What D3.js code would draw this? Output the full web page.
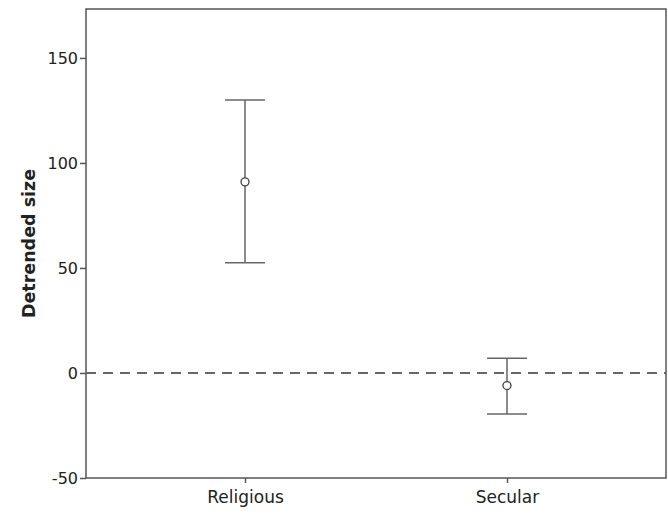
<!DOCTYPE html>
<html>
<head>
<meta charset="utf-8">
<script src="https://cdn.jsdelivr.net/npm/d3@7"></script>
<style>
  body { margin: 0; background: #fff; }
  text { font-family: "DejaVu Sans", sans-serif; fill: #222; }
</style>
</head>
<body>
<div id="chart"></div>
<script>
// data
const groups = ['Religious', 'Secular'];
const means = [91, -6];
const lower = [52.5, -19.5];
const upper = [130, 7];
const yTicks = [-50, 0, 50, 100, 150];

const width = 668;
const height = 513;
const margin = {top: 9, right: 2, bottom: 35, left: 86};

let svg = d3.select('#chart').append('svg')
    .attr('width', width)
    .attr('height', height);

let x = d3.scalePoint()
    .domain(groups)
    .range([margin.left, width - margin.right])
    .padding(0.607);

let y = d3.scaleLinear()
    .domain([-50, 173.3])
    .range([height - margin.bottom, margin.top]);

const axisColor = '#555';
const barColor = '#666';

// frame
svg.append('rect')
    .attr('x', margin.left)
    .attr('y', margin.top)
    .attr('width', width - margin.right - margin.left)
    .attr('height', height - margin.bottom - margin.top)
    .attr('fill', 'none')
    .attr('stroke', axisColor)
    .attr('stroke-width', 1.5);

// reference line at zero
svg.append('line')
    .attr('x1', margin.left)
    .attr('x2', width - margin.right)
    .attr('y1', y(0))
    .attr('y2', y(0))
    .attr('stroke', barColor)
    .attr('stroke-width', 2)
    .attr('stroke-dasharray', '10,7');

let yAxis = svg.append('g')
    .attr('transform', 'translate(' + margin.left + ',0)')
    .call(d3.axisLeft(y).tickValues(yTicks).tickFormat(d => String(d)).tickSize(6).tickPadding(2));

let xAxis = svg.append('g')
    .attr('transform', 'translate(0,' + (height - margin.bottom) + ')')
    .call(d3.axisBottom(x).tickSize(5).tickPadding(8));

[yAxis, xAxis].forEach(a => {
    a.select('.domain').remove();
    a.selectAll('line').attr('stroke', axisColor).attr('stroke-width', 1.5);
    a.selectAll('text')
        .style('font-family', '"DejaVu Sans", sans-serif')
        .attr('fill', '#222');
});
yAxis.selectAll('text').style('font-size', '16px');
xAxis.selectAll('text').style('font-size', '17px');

svg.append('text')
    .attr('transform', 'translate(35,' + ((margin.top + height - margin.bottom) / 2) + ') rotate(-90)')
    .attr('text-anchor', 'middle')
    .style('font-size', '17.5px')
    .style('font-weight', 'bold')
    .text('Detrended size');

// error bars
const cap = 20;
let bars = svg.append('g')
    .selectAll('g')
    .data(groups)
    .join('g');

bars.append('line')
    .attr('x1', d => x(d))
    .attr('x2', d => x(d))
    .attr('y1', (d, i) => y(lower[i]))
    .attr('y2', (d, i) => y(upper[i]))
    .attr('stroke', barColor)
    .attr('stroke-width', 1.5);

bars.append('line')
    .attr('x1', d => x(d) - cap)
    .attr('x2', d => x(d) + cap)
    .attr('y1', (d, i) => y(upper[i]))
    .attr('y2', (d, i) => y(upper[i]))
    .attr('stroke', barColor)
    .attr('stroke-width', 1.5);

bars.append('line')
    .attr('x1', d => x(d) - cap)
    .attr('x2', d => x(d) + cap)
    .attr('y1', (d, i) => y(lower[i]))
    .attr('y2', (d, i) => y(lower[i]))
    .attr('stroke', barColor)
    .attr('stroke-width', 1.5);

bars.append('circle')
    .attr('cx', d => x(d))
    .attr('cy', (d, i) => y(means[i]))
    .attr('r', 4)
    .attr('fill', '#fff')
    .attr('stroke', '#444')
    .attr('stroke-width', 1.3);
</script>
</body>
</html>
